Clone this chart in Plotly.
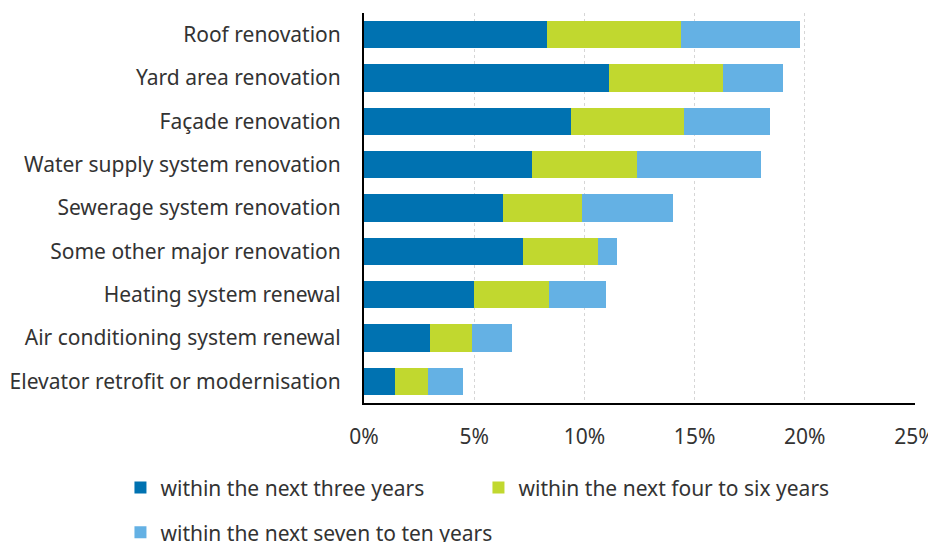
import plotly.graph_objects as go

categories = [
    "Roof renovation",
    "Yard area renovation",
    "Façade renovation",
    "Water supply system renovation",
    "Sewerage system renovation",
    "Some other major renovation",
    "Heating system renewal",
    "Air conditioning system renewal",
    "Elevator retrofit or modernisation",
]
three_years = [8.3, 11.1, 9.4, 7.6, 6.3, 7.2, 5.0, 3.0, 1.4]
four_to_six = [6.1, 5.2, 5.1, 4.8, 3.6, 3.4, 3.4, 1.9, 1.5]
seven_to_ten = [5.4, 2.7, 3.9, 5.6, 4.1, 0.9, 2.6, 1.8, 1.6]
x_ticks = [0, 5, 10, 15, 20, 25]
x_labels = ["0%", "5%", "10%", "15%", "20%", "25%"]

series = [
    ("within the next three years", three_years, "#0072b1", "legend"),
    ("within the next four to six years", four_to_six, "#c1d82f", "legend"),
    ("within the next seven to ten years", seven_to_ten, "#64b1e4", "legend2"),
]

FONT = "Noto Sans"
TXT = "#333333"
FS = 21

fig = go.Figure()
for name, vals, color, lg in series:
    fig.add_trace(go.Bar(
        y=categories, x=vals, name=name, orientation="h",
        marker=dict(color=color, line=dict(width=0)),
        legend=lg,
    ))

fig.update_layout(
    width=928, height=542,
    barmode="stack", bargap=0.37,
    paper_bgcolor="white", plot_bgcolor="white",
    margin=dict(l=356, r=21, t=5, b=147, autoexpand=False),
    font=dict(family=FONT, size=FS, color=TXT),
    legend=dict(
        orientation="h", x=-0.442, xanchor="left", y=-0.165, yanchor="top",
        entrywidth=313, entrywidthmode="pixels",
        font=dict(family=FONT, size=FS, color=TXT),
        itemwidth=30, traceorder="normal", bgcolor="rgba(0,0,0,0)",
    ),
    legend2=dict(
        orientation="h", x=-0.442, xanchor="left", y=-0.28, yanchor="top",
        font=dict(family=FONT, size=FS, color=TXT),
        itemwidth=30, bgcolor="rgba(0,0,0,0)",
    ),
)
fig.update_xaxes(
    range=[0, 25], tickvals=x_ticks, ticktext=x_labels,
    showgrid=True, gridcolor="#d6d6d6", griddash="dot", gridwidth=1,
    showline=True, linecolor="black", linewidth=2,
    ticks="outside", ticklen=14, tickcolor="rgba(0,0,0,0)",
    zeroline=False, automargin=False, ticklabeloverflow="allow",
    tickfont=dict(family=FONT, size=FS, color=TXT),
)
fig.update_yaxes(
    autorange="reversed",
    showline=True, linecolor="black", linewidth=2,
    ticks="outside", ticklen=17, tickcolor="rgba(0,0,0,0)",
    showgrid=False, automargin=False,
    tickfont=dict(family=FONT, size=FS, color=TXT),
)
fig.write_html("out.html")
